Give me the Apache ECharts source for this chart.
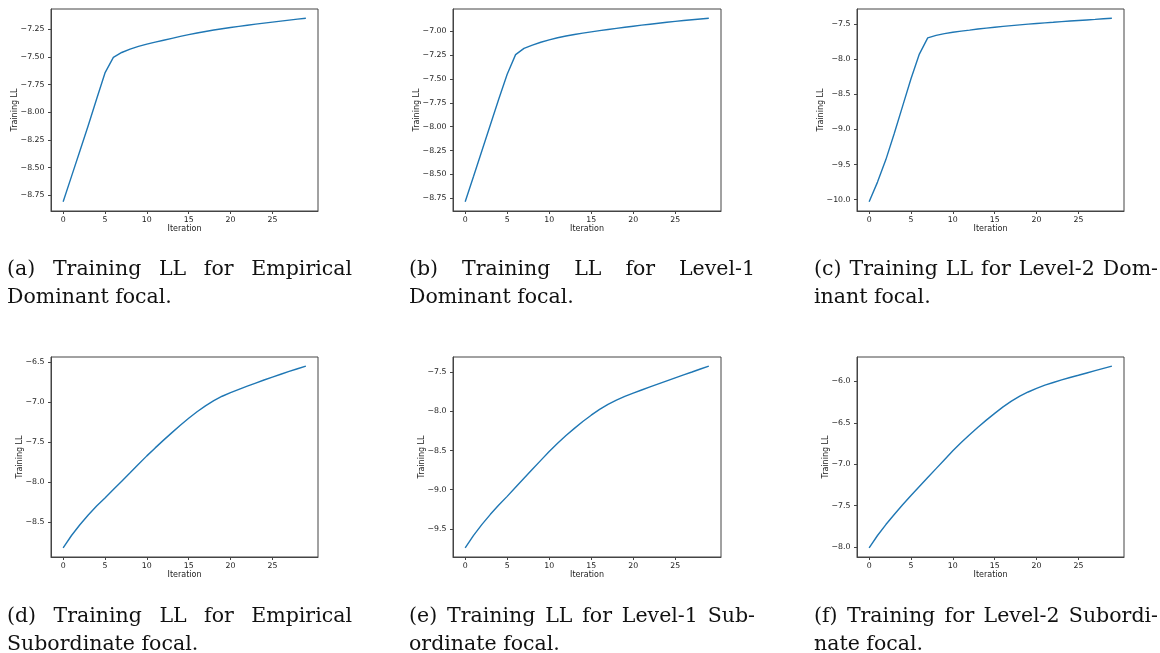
<!DOCTYPE html>
<html>
<head>
    <meta charset="utf-8">
    <title>Training LL</title>
    <script src="https://cdn.jsdelivr.net/npm/echarts@6/dist/echarts.min.js"></script>
    <style>
        html, body {
            margin: 0;
            padding: 0;
            background: #fff;
        }
        #main {
            position: absolute;
            left: 0;
            top: 0;
            width: 1160px;
            height: 653px;
        }
        .cap {
            position: absolute;
            font-family: "DejaVu Serif", serif;
            font-size: 20.5px;
            line-height: 28px;
            color: #111;
        }
        .cap .l1 {
            text-align: justify;
            text-align-last: justify;
            white-space: nowrap;
        }
        .cap .l2 {
            text-align: left;
        }
    </style>
</head>
<body>
    <div id="main"></div>
    <div class="cap" style="left:7px;top:254px;width:345px"><div class="l1">(a) Training LL for Empirical</div><div class="l2">Dominant focal.</div></div>
    <div class="cap" style="left:409px;top:254px;width:346px"><div class="l1">(b) Training LL for Level-1</div><div class="l2">Dominant focal.</div></div>
    <div class="cap" style="left:814px;top:254px;width:344px"><div class="l1">(c) Training LL for Level-2 Dom-</div><div class="l2">inant focal.</div></div>
    <div class="cap" style="left:7px;top:601px;width:345px"><div class="l1">(d) Training LL for Empirical</div><div class="l2">Subordinate focal.</div></div>
    <div class="cap" style="left:409px;top:601px;width:346px"><div class="l1">(e) Training LL for Level-1 Sub-</div><div class="l2">ordinate focal.</div></div>
    <div class="cap" style="left:814px;top:601px;width:344px"><div class="l1">(f) Training for Level-2 Subordi-</div><div class="l2">nate focal.</div></div>
    <script type="text/javascript">
        // iterations 0..29
        var iterations = [0, 1, 2, 3, 4, 5, 6, 7, 8, 9, 10, 11, 12, 13, 14, 15, 16, 17, 18, 19, 20, 21, 22, 23, 24, 25, 26, 27, 28, 29];
        var xTicks = [0, 5, 10, 15, 20, 25];

        // (a) Empirical Dominant
        var llA = [-8.81, -8.58, -8.35, -8.12, -7.88, -7.645, -7.505, -7.46, -7.43, -7.405,
                   -7.385, -7.367, -7.349, -7.332, -7.315, -7.299, -7.284, -7.27, -7.257, -7.245,
                   -7.234, -7.224, -7.214, -7.204, -7.195, -7.186, -7.177, -7.168, -7.159, -7.15];
        // (b) Level-1 Dominant
        var llB = [-8.788, -8.52, -8.25, -7.98, -7.71, -7.45, -7.245, -7.18, -7.145, -7.115,
                   -7.09, -7.068, -7.05, -7.034, -7.02, -7.007, -6.994, -6.982, -6.97, -6.958,
                   -6.947, -6.936, -6.926, -6.916, -6.906, -6.897, -6.888, -6.879, -6.871, -6.863];
        // (c) Level-2 Dominant
        var llC = [-10.03, -9.75, -9.43, -9.06, -8.67, -8.28, -7.93, -7.70, -7.665, -7.64,
                   -7.62, -7.604, -7.59, -7.574, -7.561, -7.548, -7.537, -7.526, -7.515, -7.505,
                   -7.495, -7.486, -7.478, -7.469, -7.461, -7.453, -7.445, -7.437, -7.428, -7.42];
        // (d) Empirical Subordinate
        var llD = [-8.824, -8.669, -8.534, -8.412, -8.3, -8.199, -8.094, -7.989, -7.884, -7.778,
                   -7.673, -7.573, -7.476, -7.382, -7.291, -7.203, -7.121, -7.047, -6.982, -6.927,
                   -6.882, -6.841, -6.801, -6.762, -6.724, -6.687, -6.652, -6.617, -6.583, -6.55];
        // (e) Level-1 Subordinate
        var llE = [-9.742, -9.582, -9.442, -9.314, -9.196, -9.085, -8.969, -8.854, -8.74, -8.626,
                   -8.513, -8.408, -8.31, -8.218, -8.131, -8.05, -7.976, -7.912, -7.858, -7.811,
                   -7.768, -7.729, -7.69, -7.651, -7.612, -7.574, -7.536, -7.499, -7.461, -7.424];
        // (f) Level-2 Subordinate
        var llF = [-8.012, -7.862, -7.73, -7.608, -7.49, -7.378, -7.27, -7.162, -7.054, -6.947,
                   -6.839, -6.739, -6.644, -6.554, -6.468, -6.386, -6.308, -6.238, -6.178, -6.128,
                   -6.084, -6.046, -6.013, -5.982, -5.953, -5.926, -5.898, -5.87, -5.842, -5.815];

        // y tick labels
        var yTicksA = [-8.75, -8.5, -8.25, -8.0, -7.75, -7.5, -7.25];
        var yTicksB = [-8.75, -8.5, -8.25, -8.0, -7.75, -7.5, -7.25, -7.0];
        var yTicksC = [-10.0, -9.5, -9.0, -8.5, -8.0, -7.5];
        var yTicksD = [-8.5, -8.0, -7.5, -7.0, -6.5];
        var yTicksE = [-9.5, -9.0, -8.5, -8.0, -7.5];
        var yTicksF = [-8.0, -7.5, -7.0, -6.5, -6.0];

        var panels = [
            {data: llA, ticks: yTicksA, dec: 2, left: 51, top: 9, width: 267, height: 202, gap: 32},
            {data: llB, ticks: yTicksB, dec: 2, left: 453, top: 9, width: 268, height: 202, gap: 32},
            {data: llC, ticks: yTicksC, dec: 1, left: 857, top: 9, width: 267, height: 202, gap: 32},
            {data: llD, ticks: yTicksD, dec: 1, left: 51, top: 357, width: 267, height: 200, gap: 27.5},
            {data: llE, ticks: yTicksE, dec: 1, left: 453, top: 357, width: 268, height: 200, gap: 27.5},
            {data: llF, ticks: yTicksF, dec: 1, left: 857, top: 357, width: 267, height: 200, gap: 27.5}
        ];

        var frame = '#444';
        var tickFont = {fontFamily: 'DejaVu Sans', fontSize: 7.8, color: '#222'};
        var nameFont = {fontFamily: 'DejaVu Sans', fontSize: 8, color: '#222'};

        var grids = [], xAxes = [], yAxes = [], series = [];
        panels.forEach(function (p, i) {
            var lo = Math.min.apply(null, p.data), hi = Math.max.apply(null, p.data);
            var pad = (hi - lo) * 0.05;
            grids.push({
                left: p.left, top: p.top, width: p.width, height: p.height,
                show: true, borderColor: frame, borderWidth: 1, backgroundColor: '#fff'
            });
            xAxes.push({
                type: 'value', gridIndex: i, min: -1.45, max: 30.45,
                name: 'Iteration', nameLocation: 'middle', nameGap: 14, nameMoveOverlap: false,
                nameTextStyle: nameFont,
                axisLine: {show: true, onZero: false, lineStyle: {color: frame, width: 1}},
                axisTick: {show: true, length: 3, lineStyle: {color: frame}, customValues: xTicks},
                axisLabel: Object.assign({margin: 4.5, customValues: xTicks}, tickFont),
                splitLine: {show: false}
            });
            yAxes.push({
                type: 'value', gridIndex: i, min: lo - pad, max: hi + pad,
                name: 'Training LL', nameLocation: 'middle', nameGap: p.gap, nameMoveOverlap: false,
                nameTextStyle: nameFont,
                axisLine: {show: true, onZero: false, lineStyle: {color: frame, width: 1}},
                axisTick: {show: true, length: 3, lineStyle: {color: frame}, customValues: p.ticks},
                axisLabel: Object.assign({
                    margin: 6.5, customValues: p.ticks,
                    formatter: function (v) { return v.toFixed(p.dec).replace('-', '\u2212'); }
                }, tickFont),
                splitLine: {show: false}
            });
            series.push({
                type: 'line', xAxisIndex: i, yAxisIndex: i,
                data: iterations.map(function (x, k) { return [x, p.data[k]]; }),
                showSymbol: false, symbol: 'none', smooth: false,
                lineStyle: {color: '#1f77b4', width: 1.4},
                animation: false
            });
        });

        var myChart = echarts.init(document.getElementById('main'));
        myChart.setOption({
            animation: false,
            grid: grids,
            xAxis: xAxes,
            yAxis: yAxes,
            series: series
        });
    </script>
</body>
</html>
